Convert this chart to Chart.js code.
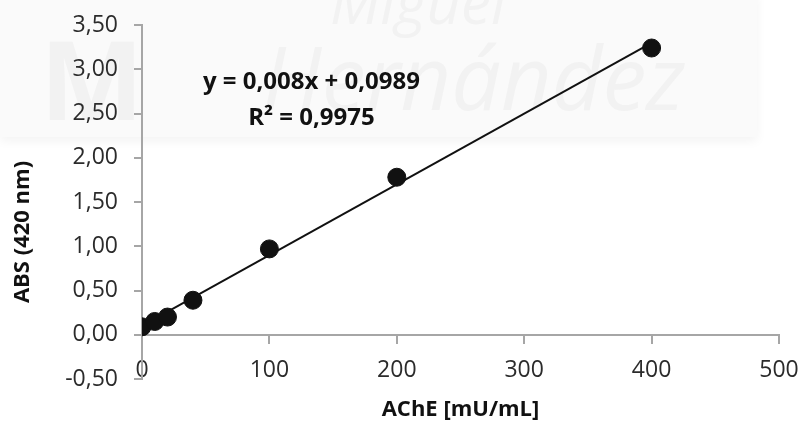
<!DOCTYPE html>
<html>
<head>
<meta charset="utf-8">
<script src="https://cdn.jsdelivr.net/npm/chart.js@4"></script>
<style>
    html, body {
        margin: 0;
        padding: 0;
        background: #ffffff;
    }

    #wrap {
        width: 805px;
        height: 425px;
    }
</style>
</head>
<body>
<div id="wrap">
    <canvas id="absChart" width="805" height="425"></canvas>
</div>

<script>
// AChE concentration (mU/mL) and measured absorbance at 420 nm
const concentrations = [0, 10, 20, 40, 100, 200, 400];
const absorbances = [0.09, 0.15, 0.20, 0.39, 0.97, 1.78, 3.24];

// linear fit shown on the chart
const slope = 0.008;
const intercept = 0.0989;
const rSquared = "0,9975";
const fitRange = [0, 400];

const xTicks = [0, 100, 200, 300, 400, 500];
const yTicks = [-0.5, 0, 0.5, 1, 1.5, 2, 2.5, 3, 3.5];

const xTitle = "AChE [mU/mL]";
const yTitle = "ABS (420 nm)";

const fontName = "'Open Sans', Lato, sans-serif";
const axisGrey = "#a6a6a6";
const textColor = "#2b2b2b";

// where the plot area sits in the picture
const plotBox = { left: 142, top: 25, right: 779, bottom: 379 };

function comma(value, digits) {
    return value.toFixed(digits).replace(".", ",");
}

const fitPoints = fitRange.map(x => ({
    x: x,
    y: slope * x + intercept
}));

const points = concentrations.map((x, i) => ({
    x: x,
    y: absorbances[i]
}));

// faint university watermark behind the plot
const watermark = {
    id: "watermark",
    beforeDraw(chart) {
        const ctx = chart.ctx;
        ctx.save();
        ctx.shadowColor = "rgba(0,0,0,0.05)";
        ctx.shadowBlur = 10;
        ctx.shadowOffsetY = 4;
        ctx.fillStyle = "#fafafa";
        ctx.fillRect(0, -10, 757, 147);
        ctx.restore();

        ctx.save();
        ctx.fillStyle = "#f2f2f2";
        ctx.font = "italic 88px " + fontName;
        ctx.fillText("Hernández", 262, 110);
        ctx.font = "italic 60px " + fontName;
        ctx.fillText("Miguel", 330, 24);
        ctx.font = "bold 110px " + fontName;
        ctx.fillText("M", 40, 120);
        ctx.restore();
    }
};

// equation, R² and axis titles
const labels = {
    id: "labels",
    afterDraw(chart) {
        const ctx = chart.ctx;
        const xs = chart.scales.x;
        const ys = chart.scales.y;

        ctx.save();
        ctx.fillStyle = "#111111";
        ctx.textAlign = "center";
        ctx.textBaseline = "middle";
        ctx.font = "bold 24px " + fontName;

        const eqX = xs.getPixelForValue(133);
        ctx.fillText(
            "y = " + comma(slope, 3) + "x + " + comma(intercept, 4),
            eqX,
            ys.getPixelForValue(2.85)
        );
        ctx.fillText(
            "R² = " + rSquared,
            eqX,
            ys.getPixelForValue(2.45)
        );

        ctx.font = "bold 22px " + fontName;
        ctx.fillText(
            xTitle,
            (chart.chartArea.left + chart.chartArea.right) / 2,
            410
        );

        ctx.translate(23, 232);
        ctx.rotate(-Math.PI / 2);
        ctx.fillText(yTitle, 0, 0);
        ctx.restore();
    }
};

const ctx = document.getElementById("absChart");

const chart = new Chart(ctx, {
    type: "scatter",

    data: {
        datasets: [
            {
                type: "line",
                data: fitPoints,
                borderColor: "#111111",
                borderWidth: 2,
                pointRadius: 0,
                fill: false,
                order: 2
            },
            {
                data: points,
                backgroundColor: "#111111",
                borderColor: "#111111",
                pointRadius: 9,
                pointHoverRadius: 9,
                order: 1
            }
        ]
    },

    options: {
        responsive: false,
        animation: false,
        events: [],

        layout: {
            padding: {
                top: 25,
                right: 26,
                left: 0,
                bottom: 0
            }
        },

        plugins: {
            legend: { display: false },
            tooltip: { enabled: false }
        },

        scales: {
            x: {
                type: "linear",
                position: { y: 0 },
                min: 0,
                max: 500,
                afterBuildTicks(scale) {
                    scale.ticks = xTicks.map(v => ({ value: v }));
                },
                afterFit(scale) {
                    // the last label may hang over the edge a little
                    scale.paddingRight = 20;
                },
                grid: {
                    display: true,
                    drawOnChartArea: false,
                    drawTicks: true,
                    tickLength: 8,
                    color: axisGrey,
                    lineWidth: 2
                },
                border: {
                    color: axisGrey,
                    width: 2
                },
                ticks: {
                    padding: 14,
                    color: textColor,
                    font: { family: fontName, size: 23 },
                    maxRotation: 0
                }
            },

            y: {
                type: "linear",
                min: -0.5,
                max: 3.5,
                afterBuildTicks(scale) {
                    scale.ticks = yTicks.map(v => ({ value: v }));
                },
                afterFit(scale) {
                    scale.width = plotBox.left;
                    scale.paddingTop = 14;
                    scale.paddingBottom = 14;
                },
                grid: {
                    display: true,
                    drawOnChartArea: false,
                    drawTicks: true,
                    tickLength: 8,
                    color: axisGrey,
                    lineWidth: 2
                },
                border: {
                    color: axisGrey,
                    width: 2
                },
                ticks: {
                    padding: 16,
                    color: textColor,
                    font: { family: fontName, size: 23 },
                    callback: value => comma(value, 2)
                }
            }
        }
    },

    plugins: [watermark, labels]
});

// nudge the padding so the plot area lands where it is in the picture
for (let i = 0; i < 3; i++) {
    const area = chart.chartArea;
    const pad = chart.options.layout.padding;
    pad.top = Math.max(0, pad.top + plotBox.top - area.top);
    pad.bottom = Math.max(0, pad.bottom + area.bottom - plotBox.bottom);
    pad.right = Math.max(0, pad.right + area.right - plotBox.right);
    chart.update();
}
</script>
</body>
</html>
